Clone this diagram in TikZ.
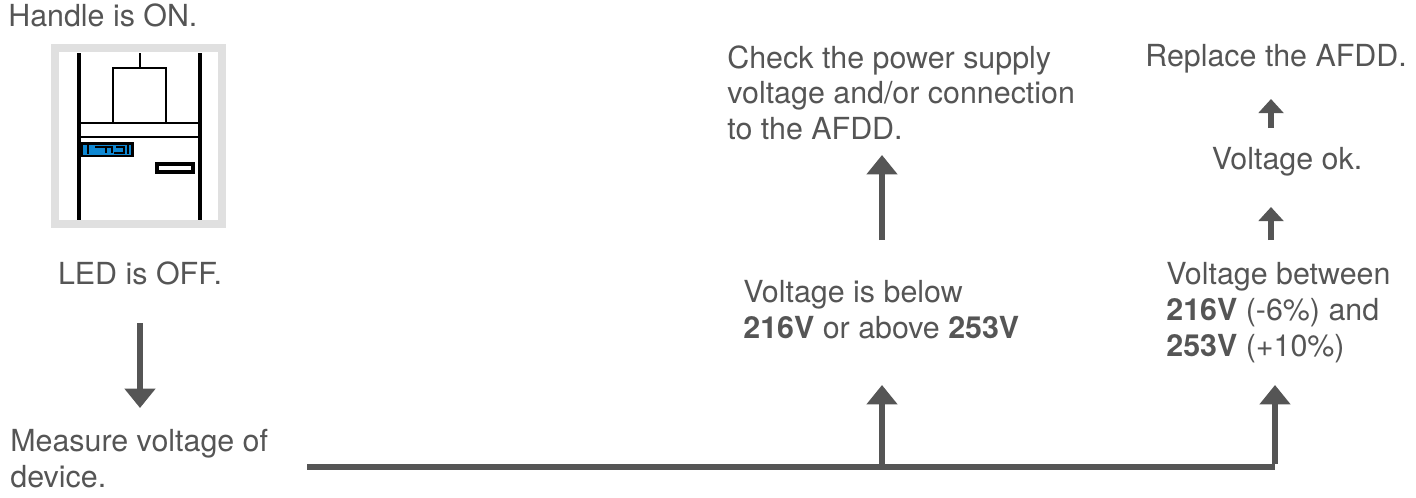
\documentclass[tikz,border=0pt]{standalone}
\usepackage{fontspec}
\setmainfont{TeX Gyre Heros}
\usetikzlibrary{arrows.meta}
\definecolor{tg}{HTML}{555555}
\begin{document}
\begin{tikzpicture}[x=0.02cm,y=-0.02cm,
  txt/.style={text=tg,font=\fontsize{17.3}{20.4}\selectfont,inner sep=0,align=left},
  conn/.style={draw=tg,line width=3.4pt,-{Triangle[length=11pt,width=17pt]}},
  conns/.style={draw=tg,line width=3.4pt,-{Triangle[length=8pt,width=14pt]}},
  dev/.style={line width=2.6pt}]
\useasboundingbox (0,0) rectangle (1416,497);
% device icon
\draw[line width=4.5pt,draw=black!12] (55,48) rectangle (222,224);
\draw[dev] (79,53) -- (79,220) (200,53) -- (200,220);
\draw[line width=1.6pt] (113,68) rectangle (166,123) (140,53) -- (140,68);
\draw[line width=1.6pt] (79,123) -- (200,123) (79,137) -- (200,137);
\fill[black] (81,142) rectangle (134,157);
\fill[cyan!70!blue] (83,144.5) rectangle (131,154.5);
\draw[black,line width=0.6pt] (88,145)--(88,154) (128,145)--(128,154) (95,147)--(112,147)--(112,153) (106,147)--(106,153) (116,147)--(124,147)--(124,153)--(114,153);
\draw[line width=1.8pt] (157,164) rectangle (193,172);
% texts
\node[txt,anchor=west] (h) at (8,15) {Handle is ON.};
\node[txt,anchor=center] (led) at (140,273) {LED is OFF.};
\node[txt,anchor=north west] (m) at (10,429) {Measure voltage of\\device.};
\node[txt,anchor=north west] (chk) at (727,45) {Check the power supply\\voltage and/or connection\\to the AFDD.};
\node[txt,anchor=west] (rep) at (1145,59) {Replace the AFDD.};
\node[txt,anchor=center] (ok) at (1287,162) {Voltage ok.};
\node[txt,anchor=north west] (below) at (743,280) {Voltage is below\\\textbf{216V} or above \textbf{253V}};
\node[txt,anchor=north west] (betw) at (1166,262) {Voltage between\\\textbf{216V} (-6\%) and\\\textbf{253V} (+10\%)};
% connectors
\coordinate (a1) at (140,323); \coordinate (a2) at (140,408);
\draw[conn] (a1) -- (a2);
\coordinate (s) at (307,467); \coordinate (j1) at (882,467); \coordinate (j2) at (1275,467);
\draw[draw=tg,line width=3.4pt] (s) -- (j2);
\coordinate (t1) at (882,385); \coordinate (t2) at (1275,385);
\draw[conn] (j1) -- (t1);
\draw[conn] ([yshift=1.7pt]j2) -- (t2);
\coordinate (u1) at (882,240); \coordinate (u2) at (882,155);
\draw[conn] (u1) -- (u2);
\coordinate (v1) at (1271,240); \coordinate (v2) at (1271,207);
\draw[conns] (v1) -- (v2);
\coordinate (w1) at (1271,128); \coordinate (w2) at (1271,99);
\draw[conns] (w1) -- (w2);
\end{tikzpicture}
\end{document}
